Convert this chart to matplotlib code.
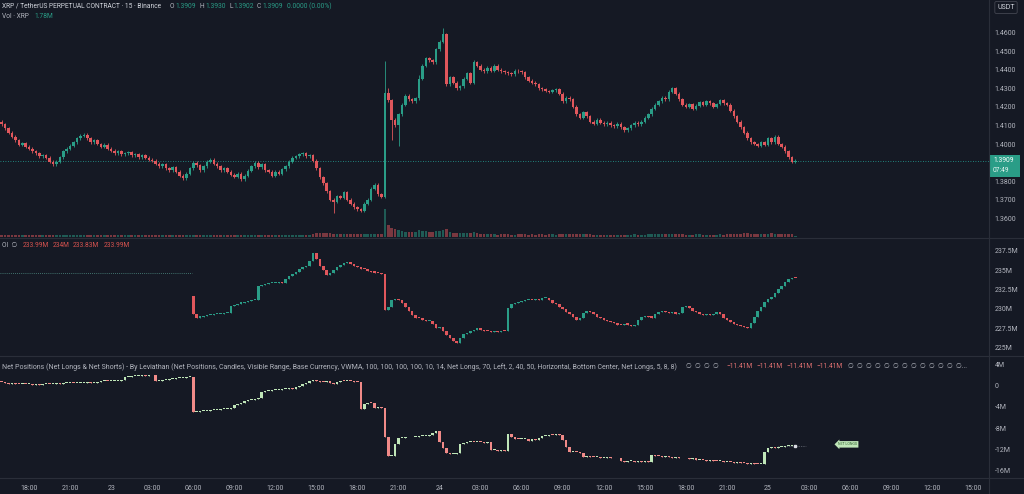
"""XRP perpetual 15m chart with open interest and net positions panes."""
import matplotlib
matplotlib.use("Agg")
import matplotlib.pyplot as plt
from matplotlib.lines import Line2D
from matplotlib.patches import Rectangle
import numpy as np

# ---- data: 15 min candles from 22nd 16:00 to 25th 02:00, one row = one hour ----
price_open0 = 1.4120
price_close = [
    1.4105, 1.4085, 1.4060, 1.4040,
    1.4020, 1.3995, 1.4005, 1.3985,
    1.3975, 1.3960, 1.3950, 1.3935,
    1.3940, 1.3925, 1.3905, 1.3890,
    1.3905, 1.3930, 1.3960, 1.3975,
    1.3990, 1.4010, 1.4030, 1.4045,
    1.4050, 1.4030, 1.4010, 1.4020,
    1.4000, 1.3985, 1.3995, 1.3975,
    1.3965, 1.3950, 1.3960, 1.3945,
    1.3950, 1.3955, 1.3940, 1.3945,
    1.3930, 1.3940, 1.3925, 1.3915,
    1.3910, 1.3895, 1.3880, 1.3890,
    1.3870, 1.3860, 1.3875, 1.3850,
    1.3830, 1.3815, 1.3840, 1.3870,
    1.3900, 1.3885, 1.3860, 1.3880,
    1.3905, 1.3915, 1.3895, 1.3880,
    1.3860, 1.3870, 1.3850, 1.3835,
    1.3825, 1.3840, 1.3810, 1.3830,
    1.3855, 1.3880, 1.3900, 1.3875,
    1.3890, 1.3860, 1.3850, 1.3830,
    1.3850, 1.3840, 1.3865, 1.3880,
    1.3905, 1.3925, 1.3935, 1.3945,
    1.3950, 1.3935, 1.3940, 1.3910,
    1.3870, 1.3820, 1.3790, 1.3745,
    1.3700, 1.3690, 1.3720, 1.3710,
    1.3740, 1.3700, 1.3680, 1.3660,
    1.3650, 1.3640, 1.3680, 1.3700,
    1.3760, 1.3780, 1.3730, 1.3715,
    1.4275, 1.4235, 1.4130, 1.4100,
    1.4160, 1.4210, 1.4260, 1.4240,
    1.4230, 1.4245, 1.4350, 1.4420,
    1.4460, 1.4450, 1.4440, 1.4510,
    1.4550, 1.4590, 1.4320, 1.4360,
    1.4330, 1.4300, 1.4310, 1.4350,
    1.4380, 1.4330, 1.4440, 1.4420,
    1.4400, 1.4390, 1.4410, 1.4395,
    1.4420, 1.4400, 1.4390, 1.4385,
    1.4380, 1.4375, 1.4395, 1.4390,
    1.4385, 1.4360, 1.4340, 1.4330,
    1.4320, 1.4300, 1.4295, 1.4285,
    1.4280, 1.4290, 1.4295, 1.4270,
    1.4230, 1.4250, 1.4240, 1.4200,
    1.4160, 1.4140, 1.4170, 1.4150,
    1.4120, 1.4110, 1.4130, 1.4115,
    1.4105, 1.4115, 1.4100, 1.4095,
    1.4110, 1.4090, 1.4075, 1.4085,
    1.4100, 1.4115, 1.4105, 1.4120,
    1.4140, 1.4160, 1.4190, 1.4210,
    1.4230, 1.4250, 1.4240, 1.4280,
    1.4300, 1.4270, 1.4240, 1.4210,
    1.4200, 1.4215, 1.4190, 1.4205,
    1.4225, 1.4210, 1.4230, 1.4220,
    1.4200, 1.4215, 1.4235, 1.4220,
    1.4210, 1.4180, 1.4150, 1.4120,
    1.4090, 1.4060, 1.4030, 1.4010,
    1.4000, 1.3990, 1.4010, 1.3995,
    1.4030, 1.4010, 1.4040, 1.4000,
    1.3985, 1.3960, 1.3930, 1.3905,
    1.3909,
]
# only the wicks that stick out clearly
price_high_marks = {112: 1.4446, 113: 1.4300, 122: 1.4370, 129: 1.4625, 138: 1.4450}
price_low_marks = {97: 1.3630, 105: 1.3632, 114: 1.4020, 116: 1.3990}

volume = [
    5, 4, 4, 4,  4, 5, 4, 4,  4, 4, 5, 4,  4, 5, 4, 4,
    5, 4, 4, 5,  4, 5, 5, 4,  4, 4, 4, 5,  4, 4, 4, 4,
    4, 5, 4, 4,  4, 4, 5, 4,  4, 4, 4, 4,  4, 5, 4, 4,
    5, 4, 4, 5,  5, 5, 4, 5,  5, 4, 4, 4,  5, 4, 4, 4,
    4, 4, 5, 4,  4, 5, 4, 4,  5, 5, 4, 4,  4, 5, 4, 4,
    4, 4, 5, 5,  5, 5, 4, 4,  5, 4, 4, 7,  8, 9, 8, 9,
    9, 6, 6, 6,  6, 6, 6, 7,  7, 7, 6, 7,  7, 6, 6, 6,
    60, 26, 20, 17,  15, 13, 11, 11,  10, 11, 16, 14,
    13, 11, 11, 12,  14, 16, 17, 11,  9, 9, 8, 9,
    8, 8, 10, 8,  6, 6, 6, 6,  6, 5, 6, 6,  6, 5, 5, 6,
    6, 6, 5, 6,  5, 6, 6, 5,  6, 6, 5, 6,  6, 7, 6, 7,
    7, 6, 6, 6,  6, 5, 5, 5,  5, 5, 5, 5,  5, 5, 5, 5,
    5, 6, 5, 5,  5, 6, 6, 6,  6, 6, 6, 7,  7, 6, 6, 6,
    5, 5, 5, 6,  6, 5, 5, 5,  5, 5, 6, 5,  6, 6, 7, 7,
    7, 8, 8, 7,  6, 6, 6, 7,  7, 8, 7, 6,  6, 7, 6, 6,
    3,
]

oi_start = 56          # first candle with open interest (23rd 06:00)
oi_open0 = 231.7
oi_close = [
    229.3, 228.9, 229.0, 229.1,
    229.2, 229.2, 229.3, 229.4,
    229.4, 229.5, 229.5, 230.4,
    230.5, 230.7, 230.8, 230.9,
    231.0, 231.1, 231.2, 233.0,
    233.1, 233.2, 233.3, 233.3,
    233.4, 233.5, 233.4, 233.9,
    234.2, 234.5, 234.8, 235.2,
    235.4, 235.6, 236.2, 237.2,
    236.5, 235.6, 235.0, 234.4,
    234.6, 235.0, 235.4, 235.7,
    235.9, 236.1, 235.8, 235.6,
    235.4, 235.2, 235.1, 234.9,
    234.8, 234.7, 234.6, 234.5,
    229.9, 230.3, 231.1, 231.3,
    231.2, 230.8, 230.3, 229.8,
    229.2, 228.9, 228.8, 228.6,
    228.4, 228.5, 228.1, 227.6,
    227.7, 227.2, 226.6, 226.2,
    225.9, 225.6, 226.3, 226.8,
    226.9, 227.2, 227.3, 227.5,
    227.3, 227.2, 227.1, 227.0,
    227.1, 227.0, 227.2, 227.1,
    230.1, 230.6, 230.8, 230.9,
    231.0, 231.1, 231.2, 231.1,
    231.3, 231.2, 231.4, 231.4,
    231.1, 230.8, 230.6, 230.3,
    230.0, 229.6, 229.3, 229.0,
    228.6, 228.8, 229.5, 229.8,
    229.6, 229.3, 229.0, 228.8,
    228.6, 228.4, 228.3, 228.2,
    228.0, 227.9, 228.1, 228.0,
    227.8, 227.9, 228.6, 229.0,
    229.1, 229.0, 228.9, 229.4,
    229.6, 229.8, 229.6, 229.5,
    229.6, 229.4, 229.5, 230.2,
    230.4, 230.1, 229.8, 229.6,
    229.4, 229.2, 229.3, 229.2,
    229.4, 229.6, 229.3, 228.9,
    228.6, 228.3, 228.1, 227.9,
    227.8, 227.7, 227.6, 228.2,
    229.0, 229.8, 230.3, 230.9,
    231.3, 231.5, 232.0, 232.6,
    233.0, 233.5, 233.9, 234.0,
    233.99,
]
oi_ref_level = 234.65

net_open0 = 0.8
net_close = [
    0.7, 0.5, 0.4, 0.5,
    0.4, 0.3, 0.4, 0.3,
    0.3, 0.2, 0.3, 0.2,
    0.3, 0.4, 0.3, 0.4,
    0.5, 0.4, 0.5, 0.5,
    0.6, 0.5, 0.6, 0.6,
    0.6, 0.7, 0.6, 0.6,
    0.7, 0.9, 1.0, 0.9,
    0.9, 1.0, 1.0, 1.1,
    1.7, 1.8, 1.9, 1.9,
    1.9, 2.0, 1.9, 2.0,
    2.0, 0.9, 1.0, 1.1,
    1.2, 1.3, 1.4, 1.5,
    1.5, 1.6, 1.7, 1.8,
    -5.0, -4.9, -4.8, -4.8,
    -4.7, -4.6, -4.6, -4.5,
    -4.4, -4.4, -4.3, -4.1,
    -3.6, -3.4, -3.3, -2.8,
    -2.7, -2.6, -2.4, -2.2,
    -1.2, -1.0, -0.9, -0.8,
    -0.7, -0.7, -0.6, -0.5,
    -0.3, -0.6, -0.2, 0.0,
    0.3, 0.6, 0.9, 1.2,
    1.0, 0.8, 0.7, 0.9,
    0.5, 0.4, 0.8, 1.0,
    0.9, 1.0, 0.9, 0.8,
    0.7, -4.3, -3.4, -3.2,
    -3.3, -4.1, -4.0, -4.2,
    -9.7, -13.3, -13.3, -11.0,
    -9.9, -9.9, -9.8, -9.8,
    -9.7, -9.7, -9.6, -9.6,
    -9.5, -9.3, -9.0, -8.6,
    -10.7, -11.8, -12.8, -12.9,
    -12.9, -12.7, -11.0, -10.8,
    -10.7, -10.6, -10.7, -10.6,
    -10.7, -10.8, -10.7, -12.2,
    -12.2, -12.3, -12.2, -12.3,
    -9.1, -9.8, -10.0, -10.1,
    -10.1, -10.1, -10.5, -10.0,
    -10.2, -9.9, -9.6, -9.5,
    -9.3, -9.4, -9.2, -9.3,
    -10.2, -11.6, -12.6, -12.5,
    -12.6, -12.8, -13.5, -13.4,
    -13.5, -13.6, -13.6, -13.7,
    -13.7, -13.6, -13.8, -13.7,
    -13.8, -14.3, -14.4, -14.3,
    -14.3, -14.4, -14.3, -14.4,
    -14.3, -14.4, -13.2, -13.3,
    -13.4, -13.5, -13.4, -13.6,
    -13.7, -13.6, -13.8, -13.7,
    -13.8, -13.9, -13.8, -14.0,
    -14.0, -14.1, -14.2, -14.1,
    -14.2, -14.3, -14.2, -14.4,
    -14.4, -14.5, -14.6, -14.5,
    -14.6, -14.7, -14.8, -14.7,
    -14.8, -14.9, -14.8, -12.5,
    -11.8, -11.7, -11.8, -11.6,
    -11.6, -11.5, -11.5, -11.4,
    -11.41,
]

tick_pos = list(range(8, 289, 12))
tick_labels = ["18:00", "21:00", "23", "03:00", "06:00", "09:00", "12:00", "15:00",
               "18:00", "21:00", "24", "03:00", "06:00", "09:00", "12:00", "15:00",
               "18:00", "21:00", "25", "03:00", "06:00", "09:00", "12:00", "15:00"]

# 1.3900 is hidden under the last-price tag
price_ticks = [1.36, 1.37, 1.38, 1.40, 1.41, 1.42, 1.43, 1.44, 1.45, 1.46]
oi_ticks = [225, 227.5, 230, 232.5, 235, 237.5]
oi_tick_labels = ["225M", "227.5M", "230M", "232.5M", "235M", "237.5M"]
net_ticks = [4, 0, -4, -8, -12, -16]
net_tick_labels = ["4M", "0", "-4M", "-8M", "-12M", "-16M"]

# ---- style ----
BG = "#151924"
TXT = "#b2b5be"
GRID = "#2a2e39"
UP, DOWN = "#2a9d87", "#e0575c"
NET_UP, NET_DOWN = "#bfe6b8", "#f08a88"

plt.rcParams["font.family"] = ["Roboto", "DejaVu Sans"]

W, H = 1024, 494


def rect(top, bottom, left=0, right=989):
    return [left / W, 1 - bottom / H, (right - left) / W, (bottom - top) / H]


def fx(x):
    return x / W


def fy(y):
    return 1 - y / H


def candles(ax, x, o, c, hi, lo, up, down, min_body, width=0.74):
    o, c = np.asarray(o), np.asarray(c)
    cols = np.where(c >= o, up, down)
    ax.vlines(x, lo, hi, colors=cols, lw=0.6, zorder=2)
    body = np.maximum(np.abs(c - o), min_body)
    ax.bar(x, body, width, bottom=np.minimum(o, c), color=cols, lw=0, zorder=3)
    return cols


def style_axis(ax):
    ax.set_facecolor(BG)
    for s in ax.spines.values():
        s.set_visible(False)
    ax.yaxis.tick_right()
    ax.tick_params(axis="y", length=0, pad=4, labelsize=5, labelcolor=TXT)
    ax.tick_params(axis="x", length=0, labelbottom=False)


fig = plt.figure(figsize=(10.24, 4.94), dpi=100, facecolor=BG)

ax_v = fig.add_axes(rect(177, 237))
ax_p = fig.add_axes(rect(0, 237), sharex=ax_v)
ax_o = fig.add_axes(rect(238, 356), sharex=ax_v)
ax_n = fig.add_axes(rect(356, 478), sharex=ax_v)

# price
pc = np.array(price_close)
n = len(pc)
x = np.arange(n)
po = np.concatenate([[price_open0], pc[:-1]])
phi = np.maximum(po, pc) + 0.0008
plo = np.minimum(po, pc) - 0.0008
for i, v in price_high_marks.items():
    phi[i] = v
for i, v in price_low_marks.items():
    plo[i] = v
cols = candles(ax_p, x, po, pc, phi, plo, UP, DOWN, 0.0004)
ax_p.axhline(pc[-1], color="#26a69a", lw=0.6, ls=(0, (1, 2)), zorder=1)

# volume
ax_v.bar(x, volume, 0.74, color=cols, alpha=0.5, lw=0)
ax_v.set_ylim(0, 130)
ax_v.axis("off")
ax_v.set_facecolor(BG)
ax_p.patch.set_visible(False)

style_axis(ax_p)
ax_p.set_ylim(1.35, 1.47742)
ax_p.set_yticks(price_ticks)
ax_p.set_yticklabels([f"{t:.4f}" for t in price_ticks])

# open interest
oc = np.array(oi_close)
oo = np.concatenate([[oi_open0], oc[:-1]])
ox = np.arange(oi_start, oi_start + len(oc))
candles(ax_o, ox, oo, oc, np.maximum(oo, oc), np.minimum(oo, oc), UP, DOWN, 0.14)
ax_o.hlines(oi_ref_level, -0.5, oi_start - 0.5, color="#4f8f86", lw=0.6, ls=(0, (1, 1.5)))
style_axis(ax_o)
ax_o.set_ylim(223.94, 239.15)
ax_o.set_yticks(oi_ticks)
ax_o.set_yticklabels(oi_tick_labels)

# net positions
nc = np.array(net_close)
no = np.concatenate([[net_open0], nc[:-1]])
candles(ax_n, x, no, nc, np.maximum(no, nc), np.minimum(no, nc), NET_UP, NET_DOWN, 0.18)
ax_n.hlines(nc[-1], n - 6, n + 2, color="#8a8f99", lw=0.5, ls=(0, (1, 1.5)))
ax_n.plot([n - 1], [nc[-1]], "s", ms=1.6, color="#d8dbe2", zorder=4)
ax_n.text(244.5, nc[-1] + 0.3, "NET LONGS", fontsize=2.6, color="#2e5e2e", ha="left", va="center",
          bbox=dict(boxstyle="larrow,pad=0.35", fc="#bfe6b8", ec="none"))
style_axis(ax_n)
ax_n.set_ylim(-17.52, 5.71)
ax_n.set_yticks(net_ticks)
ax_n.set_yticklabels(net_tick_labels)
ax_n.tick_params(axis="x", labelbottom=True, labelsize=5, labelcolor=TXT, pad=5)
ax_n.set_xticks(tick_pos)
ax_n.set_xticklabels(tick_labels)
ax_n.set_xlim(-0.5, 288.6)

# pane separators
for yy in (238, 356, 478):
    fig.add_artist(Line2D([0, 1], [fy(yy), fy(yy)], color=GRID, lw=0.8))
fig.add_artist(Line2D([fx(989), fx(989)], [0, 1], color=GRID, lw=0.8))

# last price tag
fig.add_artist(Rectangle((fx(990), fy(177)), 30 / W, 22 / H, transform=fig.transFigure,
                         fc="#2a9d87", ec="none"))
fig.text(fx(993), fy(160.5), "1.3909", fontsize=4.8, color="#ffffff", va="center")
fig.text(fx(993), fy(171), "07:49", fontsize=4.8, color="#e6f4f1", va="center")

# currency box
fig.text(fx(1006), fy(7.5), "USDT", fontsize=5, color="#d1d4dc", ha="center", va="center",
         bbox=dict(boxstyle="round,pad=0.35,rounding_size=0.2", fc=BG, ec="#434651", lw=0.6))

# pane legends
fs = 4.8
fig.text(fx(2), fy(6), "XRP / TetherUS PERPETUAL CONTRACT · 15 · Binance", fontsize=fs,
         color="#d1d4dc", va="center")
for xp, s, c in [(170, "O", TXT), (175, "1.3909", UP), (200, "H", TXT), (205, "1.3930", UP),
                 (229, "L", TXT), (233, "1.3902", UP), (257, "C", TXT), (262, "1.3909", UP),
                 (287, "0.0000 (0.00%)", UP)]:
    fig.text(fx(xp), fy(6), s, fontsize=fs, color=c, va="center")
fig.text(fx(2), fy(17), "Vol · XRP", fontsize=fs, color=TXT, va="center")
fig.text(fx(34), fy(17), "1.78M", fontsize=fs, color=UP, va="center")

fig.text(fx(2), fy(245), "OI  ∅", fontsize=fs, color=TXT, va="center")
for xp, s in [(23, "233.99M"), (53, "234M"), (73, "233.83M"), (104, "233.99M")]:
    fig.text(fx(xp), fy(245), s, fontsize=fs, color="#d9534f", va="center")

net_title = ("Net Positions (Net Longs & Net Shorts) - By Leviathan (Net Positions, Candles, "
             "Visible Range, Base Currency, VWMA, 100, 100, 100, 100, 10, 14, Net Longs, 70, "
             "Left, 2, 40, 50, Horizontal, Bottom Center, Net Longs, 5, 8, 8)")
fig.text(fx(2), fy(367), net_title, fontsize=5.0, color=TXT, va="center")
fig.text(fx(686), fy(367), "∅  ∅  ∅  ∅", fontsize=fs, color=TXT, va="center")
for k in range(4):
    fig.text(fx(726 + 30 * k), fy(367), "−11.41M", fontsize=fs, color="#e57373", va="center")
fig.text(fx(848), fy(367), "∅  ∅  ∅  ∅  ∅  ∅  ∅  ∅  ∅  ∅  ∅  ∅  ∅...", fontsize=fs,
         color=TXT, va="center")

fig.savefig("out.png", dpi=100, facecolor=BG)
